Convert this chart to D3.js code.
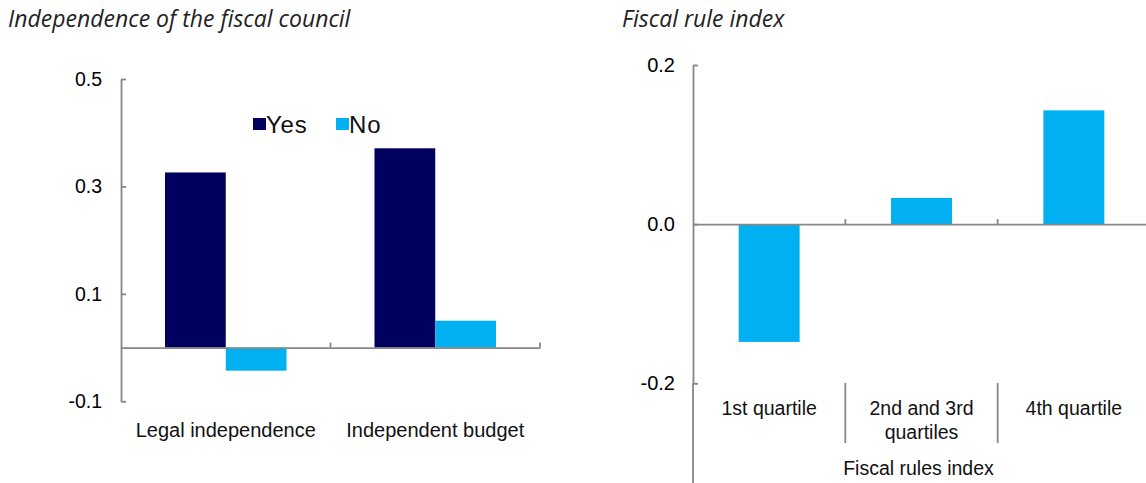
<!DOCTYPE html>
<html>
<head>
<meta charset="utf-8">
<script src="https://cdn.jsdelivr.net/npm/d3@7"></script>
<style>
  html, body { margin: 0; padding: 0; background: #fff; }
  svg { display: block; }
  .tick text { font-family: "Liberation Sans", Arial, sans-serif; fill: #000; }
</style>
</head>
<body>
<svg id="chart" width="1146" height="483"></svg>
<script>
// ---------- data ----------
const leftTitle = "Independence of the fiscal council";
const rightTitle = "Fiscal rule index";
const leftCategories = ["Legal independence", "Independent budget"];
const leftSeries = ["Yes", "No"];
const yesValues = [0.326, 0.371];
const noValues = [-0.043, 0.050];
const leftTicks = [-0.1, 0.1, 0.3, 0.5];

const rightCategories = [["1st quartile"], ["2nd and 3rd", "quartiles"], ["4th quartile"]];
const rightValues = [-0.148, 0.033, 0.143];
const rightTicks = [-0.2, 0.0, 0.2];
const rightAxisTitle = "Fiscal rules index";

// ---------- styles ----------
const DARK = "#00005e";
const LIGHT = "#00b0f0";
const AXIS = "#878787";
const FONT = "'Liberation Sans', Arial, sans-serif";
const TFONT = "'Open Sans', 'Noto Sans', sans-serif";
const fmt = d => d3.format(".1f")(d).replace("\u2212", "-");

const svg = d3.select("#chart");

// titles
svg.append("text").attr("x", 8).attr("y", 27)
  .attr("font-family", TFONT).attr("font-style", "italic").attr("font-size", 23)
  .attr("fill", "#222").text(leftTitle);
svg.append("text").attr("x", 622).attr("y", 27)
  .attr("font-family", TFONT).attr("font-style", "italic").attr("font-size", 23)
  .attr("fill", "#222").text(rightTitle);

function styleAxis(g) {
  g.select(".domain").attr("stroke", AXIS).attr("stroke-width", 1.8);
  g.selectAll(".tick line").attr("stroke", AXIS).attr("stroke-width", 1.8);
}

// ================= LEFT CHART =================
const lx0 = 121, lx1 = 540;
const ly = d3.scaleLinear().domain([-0.1, 0.5]).range([401.3, 79]);
const lx = d3.scaleBand().domain(leftCategories).range([lx0, lx1]);
const lsub = d3.scaleBand().domain(leftSeries)
  .range([lx.bandwidth() * 0.21, lx.bandwidth() * 0.79]);

const leftData = leftCategories.map((c, i) => ({ cat: c, vals: [
  { s: "Yes", v: yesValues[i] }, { s: "No", v: noValues[i] } ] }));
const color = d3.scaleOrdinal().domain(leftSeries).range([DARK, LIGHT]);

const lbars = svg.append("g");
leftData.forEach(d => {
  lbars.selectAll(null).data(d.vals).enter().append("rect")
    .attr("x", e => lx(d.cat) + lsub(e.s))
    .attr("width", lsub.bandwidth())
    .attr("y", e => ly(Math.max(0, e.v)))
    .attr("height", e => Math.abs(ly(e.v) - ly(0)))
    .attr("fill", e => color(e.s));
});

// y axis
const lyAxis = svg.append("g").attr("transform", `translate(${lx0},0)`)
  .call(d3.axisLeft(ly).tickValues(leftTicks).tickFormat(fmt)
    .tickSizeInner(-5).tickSizeOuter(0).tickPadding(19));
styleAxis(lyAxis);
lyAxis.selectAll(".tick text").attr("font-size", 19.5);

// x axis at zero
const lxAxis = svg.append("g").attr("transform", `translate(0,${ly(0)})`)
  .call(d3.axisBottom(lx).tickSizeInner(0).tickSizeOuter(0).tickFormat(""));
styleAxis(lxAxis);
lxAxis.selectAll(".tick").remove();
const lBounds = leftCategories.map(c => lx(c) + lx.bandwidth());
lxAxis.selectAll(".btick").data(lBounds).enter().append("line")
  .attr("x1", d => d).attr("x2", d => d)
  .attr("y1", 0).attr("y2", -5)
  .attr("stroke", AXIS).attr("stroke-width", 1.8);

// category labels
svg.append("g").selectAll("text").data(leftCategories).enter().append("text")
  .attr("x", d => lx(d) + lx.bandwidth() / 2)
  .attr("y", 437)
  .attr("text-anchor", "middle")
  .attr("font-family", FONT).attr("font-size", 20)
  .attr("fill", "#111").text(d => d);

// legend
const legend = svg.append("g").attr("font-family", FONT).attr("font-size", 24)
  .attr("letter-spacing", 0.8);
const legX = [253, 336];
leftSeries.forEach((s, i) => {
  legend.append("rect").attr("x", legX[i]).attr("y", 118).attr("width", 13).attr("height", 12)
    .attr("fill", color(s));
  legend.append("text").attr("x", legX[i] + 13).attr("y", 132.5)
    .attr("fill", "#111").text(s);
});

// ================= RIGHT CHART =================
const rx0 = 693, rx1 = 1150;
const ry = d3.scaleLinear().domain([-0.2, 0.2]).range([383.3, 65]);
const rKeys = rightCategories.map(c => c.join(" "));
const rx = d3.scaleBand().domain(rKeys).range([rx0, rx1]);
const rbw = rx.bandwidth() * 0.4;

svg.append("g").selectAll("rect").data(rightValues).enter().append("rect")
  .attr("x", (d, i) => rx(rKeys[i]) + (rx.bandwidth() - rbw) / 2)
  .attr("width", rbw)
  .attr("y", d => ry(Math.max(0, d)))
  .attr("height", d => Math.abs(ry(d) - ry(0)))
  .attr("fill", LIGHT);

// y axis
const ryAxis = svg.append("g").attr("transform", `translate(${rx0},0)`)
  .call(d3.axisLeft(ry).tickValues(rightTicks).tickFormat(fmt)
    .tickSizeInner(-5).tickSizeOuter(0).tickPadding(18));
styleAxis(ryAxis);
ryAxis.selectAll(".tick text").attr("font-size", 20);
ryAxis.append("line").attr("x1", 0).attr("x2", 0)
  .attr("y1", ry(-0.2)).attr("y2", 483)
  .attr("stroke", AXIS).attr("stroke-width", 1.8);

// x axis at zero
const rxAxis = svg.append("g").attr("transform", `translate(0,${ry(0)})`)
  .call(d3.axisBottom(rx).tickSizeInner(0).tickSizeOuter(0).tickFormat(""));
styleAxis(rxAxis);
rxAxis.selectAll(".tick").remove();
const rBounds = rKeys.slice(0, -1).map(k => rx(k) + rx.bandwidth());
rxAxis.selectAll(".btick").data(rBounds).enter().append("line")
  .attr("x1", d => d).attr("x2", d => d)
  .attr("y1", 0).attr("y2", -5)
  .attr("stroke", AXIS).attr("stroke-width", 1.8);

// category dividers
svg.append("g").selectAll("line").data(rBounds).enter().append("line")
  .attr("x1", d => d).attr("x2", d => d)
  .attr("y1", 383).attr("y2", 443)
  .attr("stroke", AXIS).attr("stroke-width", 1.8);

// category labels
const rlab = svg.append("g").attr("font-family", FONT).attr("font-size", 19.5).attr("fill", "#111");
rightCategories.forEach((lines, i) => {
  const t = rlab.append("text").attr("text-anchor", "middle")
    .attr("x", rx(rKeys[i]) + rx.bandwidth() / 2).attr("y", 415);
  lines.forEach((ln, j) => {
    t.append("tspan").attr("x", rx(rKeys[i]) + rx.bandwidth() / 2)
      .attr("dy", j === 0 ? 0 : 24).text(ln);
  });
});
svg.append("text").attr("x", (rx0 + rx1) / 2 - 3).attr("y", 475)
  .attr("text-anchor", "middle").attr("font-family", FONT).attr("font-size", 19.5)
  .attr("fill", "#111").text(rightAxisTitle);
</script>
</body>
</html>
